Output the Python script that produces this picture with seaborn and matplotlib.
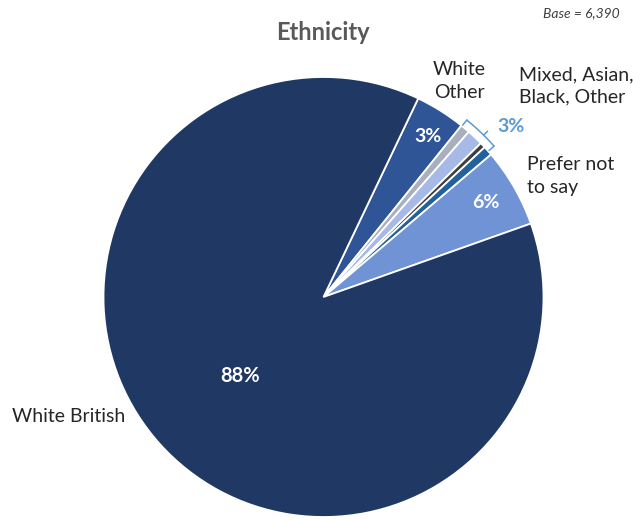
import matplotlib
matplotlib.use("Agg")
import matplotlib.pyplot as plt
import seaborn as sns
import numpy as np

# ---- data ----
categories = ["White Other", "Mixed", "Asian", "Black", "Other", "Prefer not to say", "White British"]
values = [3.7, 0.7, 1.2, 0.4, 0.7, 5.8, 87.5]
colors = ["#2f5597", "#a9b0bd", "#a7b9e6", "#3f3f3f", "#23619a", "#7093d6", "#203864"]
title = "Ethnicity"
base_note = "Base = 6,390"
pct_labels = {"White Other": "3%", "Prefer not to say": "6%", "White British": "88%"}
group_pct = "3%"

sns.set_theme(style="white")
plt.rcParams['font.family'] = ['Lato', 'DejaVu Sans']

W, H = 633, 522
fig = plt.figure(figsize=(W / 100, H / 100), dpi=100)
fig.patch.set_facecolor("white")

cx, cy, r = 323.5, 297, 220
ax = fig.add_axes([(cx - r) / W, (H - cy - r) / H, 2 * r / W, 2 * r / H])
wedges, _ = ax.pie(values, colors=colors, startangle=64.5, counterclock=False,
                   radius=1.0, wedgeprops=dict(edgecolor="white", linewidth=1.3))
ax.set_xlim(-1, 1)
ax.set_ylim(-1, 1)
ax.set_aspect("equal")
ax.axis("off")

def px(x, y):
    return x / W, 1 - y / H

# in-slice percentages
fig.text(*px(428, 137), pct_labels["White Other"], color="white", fontsize=14,
         fontweight="bold", ha="center", va="center")
fig.text(*px(486, 203), pct_labels["Prefer not to say"], color="white", fontsize=14,
         fontweight="bold", ha="center", va="center")
fig.text(*px(240, 376), pct_labels["White British"], color="white", fontsize=14.5,
         fontweight="bold", ha="center", va="center")

# outside labels
fig.text(*px(459, 81), "White\nOther", color="#262626", fontsize=14, ha="center",
         va="center", linespacing=1.4)
fig.text(*px(519, 86), "Mixed, Asian,\nBlack, Other", color="#262626", fontsize=14,
         ha="left", va="center", linespacing=1.4)
fig.text(*px(527, 176), "Prefer not\nto say", color="#262626", fontsize=14,
         ha="left", va="center", linespacing=1.4)
fig.text(*px(12, 416), "White British", color="#262626", fontsize=14,
         ha="left", va="center")
fig.text(*px(511, 126), group_pct, color="#5b9bd5", fontsize=14, fontweight="bold",
         ha="center", va="center")

# bracket around the small group
a0 = np.deg2rad(90 - 39.0)
a1 = np.deg2rad(90 - 48.5)
rb = 1.035
ts = np.linspace(a0, a1, 40)
bc = "#5b9bd5"
ax.plot(rb * np.cos(ts), rb * np.sin(ts), color=bc, lw=1.1, clip_on=False)
for a in (a0, a1):
    ax.plot([rb * np.cos(a), 1.005 * np.cos(a)], [rb * np.sin(a), 1.005 * np.sin(a)],
            color=bc, lw=1.1, clip_on=False)
am = a0 + 0.6 * (a1 - a0)
ax.plot([rb * np.cos(am), 1.06 * np.cos(am)], [rb * np.sin(am), 1.06 * np.sin(am)],
        color=bc, lw=1.1, clip_on=False)

# title and base
fig.text(*px(323, 32), title, color="#595959", fontsize=17, fontweight="bold",
         ha="center", va="center")
fig.text(*px(620, 13), base_note, color="#404040", fontsize=10, style="italic",
         ha="right", va="center")

fig.savefig("out.png", dpi=100, facecolor="white")
